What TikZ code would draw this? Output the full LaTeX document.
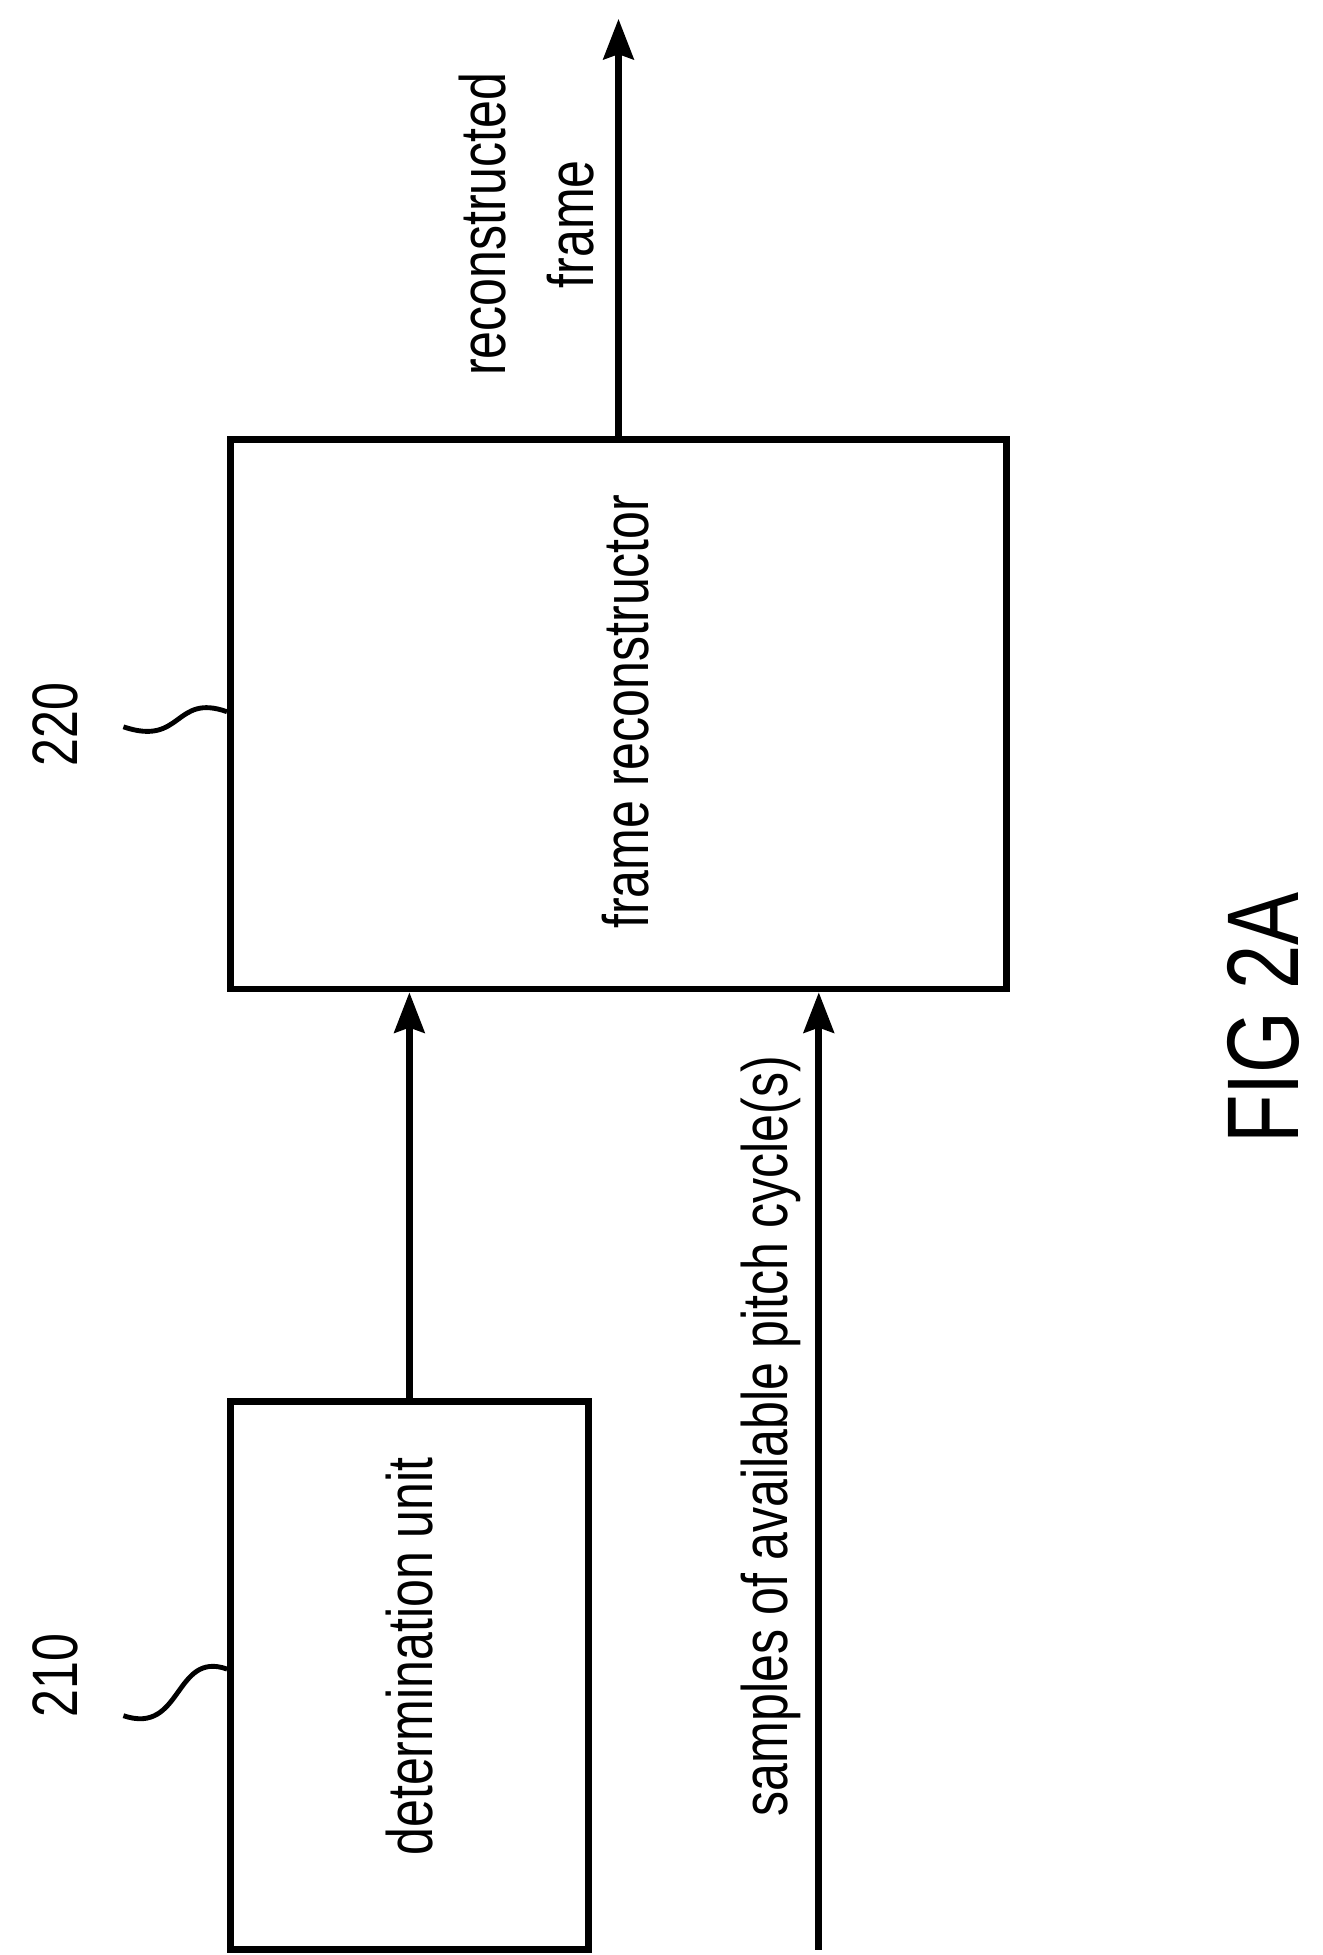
\documentclass[tikz,border=0pt]{standalone}
\usepackage{fontspec}
\setmainfont{Liberation Sans}
\usetikzlibrary{arrows.meta}
\tikzset{
  block/.style={draw, line width=1.5pt, minimum width=#1},
  lbl/.style={rotate=90, font=\fontsize{14.5}{20}\selectfont, inner sep=0pt},
  sig/.style={line width=1.5pt, -{Stealth[length=3.2mm,width=2.4mm,inset=0.4mm]}},
}
\newcommand{\narrow}[1]{\scalebox{0.78}[1]{#1}}
\begin{document}
\begin{tikzpicture}[x=0.01cm,y=-0.01cm]
\useasboundingbox (0,0) rectangle (1050,1552);

\node[block=2.84cm, minimum height=4.35cm] (det) at (325,1330) {};
\node[block=6.16cm, minimum height=4.36cm] (fr) at (491,567) {};

\node[lbl] (dettxt) at (325,1315) {\narrow{determination unit}};
\node[lbl] (frtxt) at (497,565) {\narrow{frame reconstructor}};
\node[lbl] (samples) at (612,1140) {\narrow{samples of available pitch cycle(s)}};
\node[lbl, align=center] (outtxt) at (418,178) {\narrow{reconstructed}\\\narrow{frame}};

\node[lbl] (n210) at (44,1330) {\narrow{210}};
\node[lbl] (n220) at (44,575) {\narrow{220}};
\node[rotate=90, font=\fontsize{23}{23}\selectfont, inner sep=0pt] (fig) at (1003,808) {\narrow{FIG 2A}};

\coordinate (in) at (650,1548);
\coordinate (out) at (491,15);

\draw[sig] (det.north) -- (det.north |- fr.south);
\draw[sig] (in) -- (in |- fr.south);
\draw[sig] (fr.north) -- (out);

% reference squiggles
\draw[line width=1.1pt] (98,1362) .. controls (145,1378) and (138,1310) .. (det.west |- 0,1325);
\draw[line width=1.1pt] (98,577) .. controls (145,593) and (138,550) .. (fr.west |- 0,565);
\end{tikzpicture}
\end{document}
